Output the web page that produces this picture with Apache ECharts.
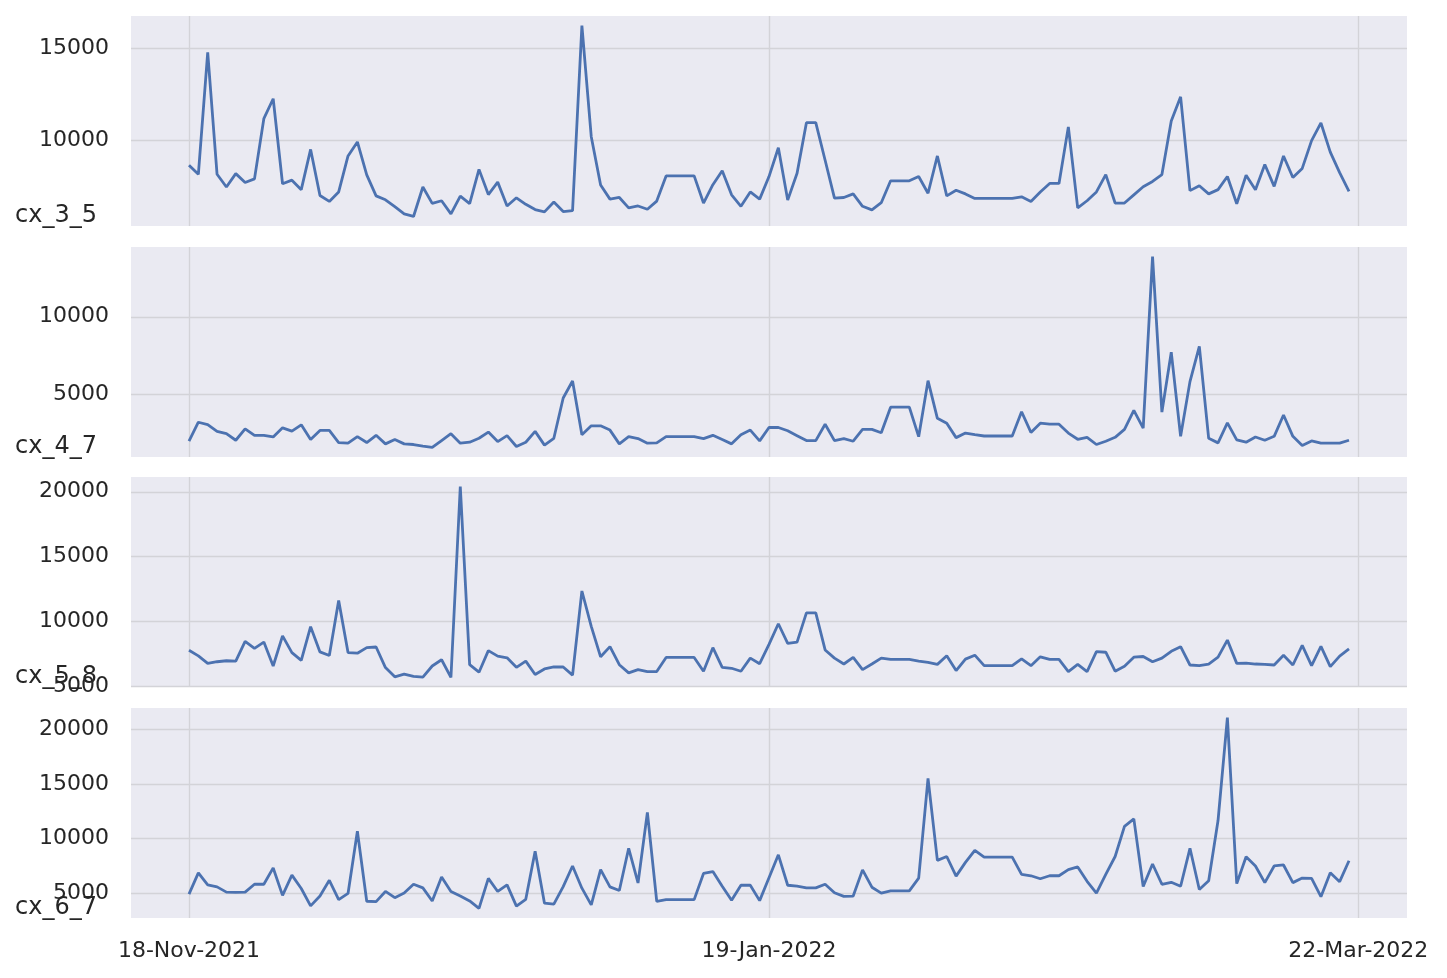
<!DOCTYPE html>
<html>
<head>
<meta charset="utf-8">
<script src="https://cdn.jsdelivr.net/npm/echarts@6.0.0/dist/echarts.min.js"></script>
<style>
html, body { margin: 0; padding: 0; background: #fff; }
#chart { width: 1447px; height: 978px; }
</style>
</head>
<body>
<div id="chart"></div>
<script>
// x positions are sample indices; date ticks sit at these positions
var tickPos = [0, 62, 125];
var tickLabels = ['18-Nov-2021', '19-Jan-2022', '22-Mar-2022'];
var yTicks = [5000, 10000, 15000, 20000];
var panelNames = ['cx_3_5', 'cx_4_7', 'cx_5_8', 'cx_6_7'];

var cx_3_5 = [8670,8174,14787,8174,7482,8209,7730,7926,11188,12270,
  7660,7855,7340,9521,7021,6702,7216,9167,9929,8138,
  7003,6791,6418,6028,5886,7482,6596,6738,6028,6986,
  6578,8440,7074,7748,6454,6897,6543,6259,6135,6667,
  6152,6206,16241,10213,7589,6826,6915,6348,6454,6277,
  6720,8085,8085,8085,8085,6613,7607,8369,7057,6436,
  7216,6826,8050,9610,6773,8227,10975,10975,8936,6879,
  6915,7110,6436,6241,6631,7819,7819,7819,8050,7145,
  9167,7003,7305,7110,6862,6862,6862,6862,6862,6950,
  6702,7216,7677,7677,10745,6348,6738,7216,8156,6613,
  6613,7057,7500,7784,8156,11064,12376,7287,7553,7110,
  7340,8050,6578,8120,7340,8706,7518,9167,7996,8493,
  10000,10957,9379,8262,7252];

var cx_4_7 = [2018,3236,3089,2648,2501,2081,2816,2396,2396,2291,
  2879,2669,3068,2123,2711,2711,1934,1892,2312,1934,
  2396,1850,2123,1850,1808,1703,1619,2060,2501,1892,
  1955,2207,2606,1997,2375,1682,1955,2648,1766,2207,
  4790,5882,2438,3005,3005,2732,1850,2312,2186,1892,
  1913,2312,2312,2312,2312,2186,2396,2123,1850,2438,
  2732,2039,2900,2900,2690,2375,2060,2060,3110,2060,
  2186,2018,2774,2774,2564,4202,4202,4202,2312,5903,
  3488,3173,2249,2543,2438,2354,2354,2354,2354,3908,
  2585,3173,3110,3110,2543,2144,2270,1808,2018,2270,
  2774,3992,2858,13862,3887,7730,2333,5840,8108,2207,
  1913,3194,2102,1955,2291,2081,2333,3698,2333,1745,
  2039,1892,1892,1892,2081];

var cx_5_8 = [7778,7349,6768,6894,6970,6945,8460,7930,8409,6566,
  8889,7601,6995,9596,7652,7374,11616,7601,7551,7980,
  8031,6440,5733,5935,5758,5708,6566,7046,5682,20403,
  6667,6086,7753,7324,7197,6465,6945,5910,6339,6490,
  6490,5859,12348,9621,7273,8056,6667,6036,6288,6137,
  6137,7223,7223,7223,7223,6162,7980,6465,6389,6162,
  7172,6743,8233,9823,8308,8409,10657,10657,7803,7172,
  6718,7223,6288,6718,7172,7071,7071,7071,6945,6844,
  6692,7349,6212,7096,7399,6591,6591,6591,6591,7122,
  6591,7273,7071,7071,6137,6692,6137,7677,7627,6162,
  6541,7248,7298,6894,7172,7702,8056,6642,6591,6718,
  7248,8561,6768,6793,6718,6692,6642,7399,6642,8157,
  6591,8081,6515,7324,7879];

var cx_6_7 = [4910,6856,5749,5569,5090,5060,5090,5808,5808,7305,
  4790,6647,5419,3832,4731,6168,4401,4970,10659,4252,
  4222,5150,4581,5000,5808,5479,4281,6467,5150,4731,
  4281,3593,6347,5150,5749,3802,4431,8832,4072,3982,
  5599,7485,5449,3922,7156,5569,5240,9102,5928,12395,
  4252,4401,4401,4401,4401,6796,6976,5629,4341,5719,
  5719,4311,6407,8503,5719,5629,5479,5479,5808,5030,
  4701,4731,7126,5539,5000,5210,5210,5210,6377,15509,
  7994,8353,6557,7814,8922,8293,8293,8293,8293,6707,
  6587,6317,6587,6587,7156,7395,6078,5000,6707,8353,
  11108,11797,5599,7665,5808,5988,5629,9102,5329,6138,
  11647,21078,5868,8323,7485,5958,7485,7575,5958,6377,
  6347,4671,6856,6048,7964];

var allSeries = [cx_3_5, cx_4_7, cx_5_8, cx_6_7];

var font = 'DejaVu Sans';
var textColor = '#262626';
var gridColor = '#d3d3d8';
var gridTops = [16, 247, 477, 708];
var gridH = 210;

// matplotlib style 5% margins
var lastIdx = cx_3_5.length - 1;
var xPad = lastIdx * 0.05;

var grids = [], xAxes = [], yAxes = [], series = [], graphics = [];

for (var i = 0; i < 4; i++) {
    var vals = allSeries[i];
    var lo = Math.min.apply(null, vals), hi = Math.max.apply(null, vals);
    var pad = (hi - lo) * 0.05;
    var yMin = lo - pad, yMax = hi + pad;
    var ticks = yTicks.filter(function (t) { return t >= yMin && t <= yMax; });

    grids.push({
        left: 131, right: 40, top: gridTops[i], height: gridH,
        show: true, backgroundColor: '#eaeaf2', borderWidth: 0
    });

    xAxes.push({
        type: 'value', gridIndex: i,
        min: -xPad, max: lastIdx + xPad,
        axisLine: { show: false },
        axisTick: { show: false, customValues: tickPos },
        axisLabel: {
            show: i === 3,
            customValues: tickPos,
            fontFamily: font, fontSize: 22, color: textColor, margin: 22,
            formatter: function (v) { return tickLabels[tickPos.indexOf(v)]; }
        },
        splitLine: { show: true, lineStyle: { color: gridColor, width: 1.4 } }
    });

    yAxes.push({
        type: 'value', gridIndex: i,
        min: yMin, max: yMax,
        axisLine: { show: false },
        axisTick: { show: false, customValues: ticks },
        axisLabel: {
            customValues: ticks,
            fontFamily: font, fontSize: 22, color: textColor, margin: 22,
            formatter: function (v) { return String(v); }
        },
        splitLine: { show: true, lineStyle: { color: gridColor, width: 1.4 } }
    });

    series.push({
        type: 'line', xAxisIndex: i, yAxisIndex: i,
        data: vals.map(function (v, k) { return [k, v]; }),
        showSymbol: false,
        lineStyle: { color: '#4c72b0', width: 2.8 },
        silent: true
    });

    graphics.push({
        type: 'text', left: 15, top: gridTops[i] + gridH - 22,
        style: { text: panelNames[i], font: '24px "DejaVu Sans"', fill: textColor }
    });
}

var chart = echarts.init(document.getElementById('chart'));
chart.setOption({
    animation: false,
    backgroundColor: '#ffffff',
    grid: grids,
    xAxis: xAxes,
    yAxis: yAxes,
    series: series,
    graphic: graphics
});
</script>
</body>
</html>
